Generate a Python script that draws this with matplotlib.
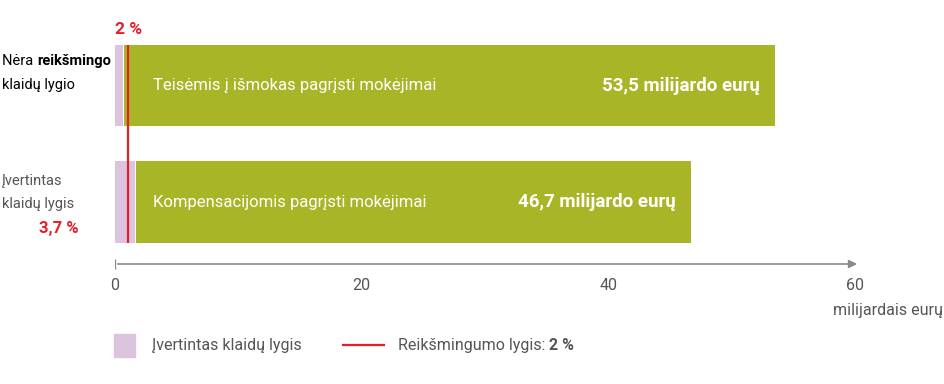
import matplotlib
matplotlib.use("Agg")
import matplotlib.pyplot as plt

plt.rcParams["font.family"] = ["Roboto", "DejaVu Sans"]

# data
categories = ["Nėra reikšmingo klaidų lygio", "Įvertintas klaidų lygis"]
bar_labels = ["Teisėmis į išmokas pagrįsti mokėjimai", "Kompensacijomis pagrįsti mokėjimai"]
totals = [53.5, 46.7]          # milijardai eurų
error_rates = [1.4, 3.7]       # % of total
materiality = 2.0              # %
xticks = [0, 20, 40, 60]

GREEN = "#a8b526"
PINK = "#dcc4de"
RED = "#e3202a"
GREY = "#555555"
AXIS = "#8a8a8a"
FS = 11.5
FS_LEFT = 10.5
W, H = 945, 384

fig = plt.figure(figsize=(9.45, 3.84), dpi=100)
ax = fig.add_axes([115 / W, 0, 740 / W, 1])
ax.set_xlim(0, 60)
ax.set_ylim(2.562, -0.734)
ax.axis("off")


def runs(x, y, parts, **kw):
    """Draw text pieces (text, weight) one after another, x/y in pixels from top-left."""
    r = fig.canvas.get_renderer()
    px = x
    for txt, wt in parts:
        t = fig.text(px / W, 1 - y / H, txt, fontweight=wt, va="baseline", **kw)
        px = t.get_window_extent(r).x1


ypos = list(range(len(categories)))
err = [t * r / 100 for t, r in zip(totals, error_rates)]
green = [t - e for t, e in zip(totals, err)]
h = 0.70
ax.barh(ypos, err, height=h, color=PINK, left=-0.08, zorder=2)
ax.barh(ypos, green, left=err, height=h, color=GREEN, zorder=2)

# materiality line (2 % of the larger bar)
mx = totals[0] * materiality / 100
ax.vlines(mx, ypos[0] - h / 2, ypos[-1] + h / 2, color=RED, lw=1.6, zorder=3)
ax.text(mx, ypos[0] - h / 2 - 0.07, f"{materiality:.0f} %", color=RED, fontsize=12.5,
        fontweight="bold", ha="center", va="bottom")

for y, lab, tot in zip(ypos, bar_labels, totals):
    ax.text(3.1, y, lab, color="white", fontsize=12, va="center", ha="left", zorder=4)
    ax.text(tot - 1.2, y, f"{tot:.1f}".replace(".", ",") + " milijardo eurų",
            color="white", fontsize=13.5, fontweight="bold", va="center", ha="right",
            zorder=4)

# left category labels
runs(2, 65, [("Nėra ", "normal"), ("reikšmingo", "bold")], fontsize=FS_LEFT, color="black")
runs(2, 89, [("klaidų lygio", "normal")], fontsize=FS_LEFT, color="black")
runs(2, 185, [("Įvertintas", "normal")], fontsize=FS_LEFT, color=GREY)
runs(2, 208, [("klaidų lygis", "normal")], fontsize=FS_LEFT, color=GREY)
fig.text(79 / W, 1 - 228 / H, f"{error_rates[1]:.1f}".replace(".", ",") + " %",
         fontsize=12, va="center", ha="right", color=RED, fontweight="bold")

# x axis with arrow
ya = 1.532
ax.annotate("", xy=(60.4, ya), xytext=(0, ya),
            arrowprops=dict(arrowstyle="-|>", color=AXIS, lw=1.2, mutation_scale=12),
            annotation_clip=False)
ax.vlines(0, ya - 0.04, ya + 0.04, color=AXIS, lw=1)
for t in xticks:
    ax.text(t, 1.72, str(t), ha="center", va="center", fontsize=FS, color=GREY)
fig.text(943 / W, 1 - 311 / H, "milijardais eurų", ha="right", va="center",
         fontsize=FS, color=GREY)

# legend
fig.patches.append(plt.Rectangle((114 / W, 1 - 357 / H), 21 / W, 23 / H,
                                 transform=fig.transFigure, color=PINK))
runs(152, 350, [("Įvertintas klaidų lygis", "normal")], fontsize=FS, color=GREY)
fig.add_artist(plt.Line2D([343 / W, 384 / W], [1 - 345 / H] * 2,
                          color=RED, lw=1.6, transform=fig.transFigure))
runs(398, 350, [("Reikšmingumo lygis: ", "normal"), (f"{materiality:.0f} %", "bold")],
     fontsize=FS, color=GREY)

fig.savefig("out.png", dpi=100, facecolor="white")
